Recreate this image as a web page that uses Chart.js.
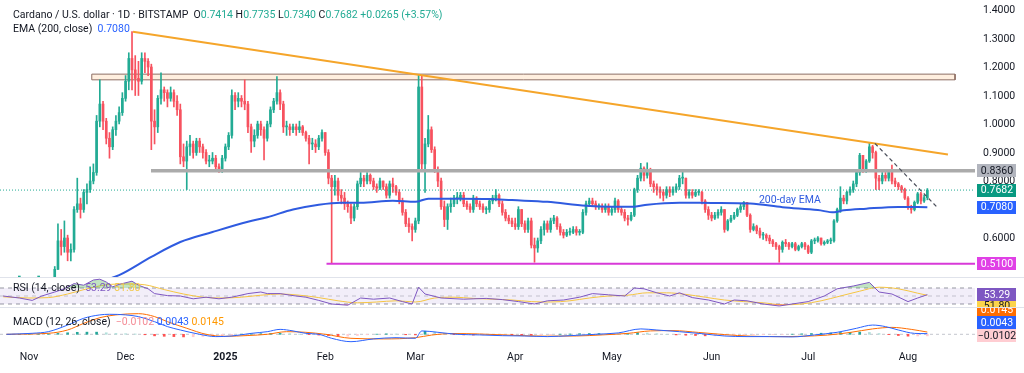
<!DOCTYPE html>
<html>
<head>
<meta charset="UTF-8">
<title>Cardano / U.S. dollar · 1D · BITSTAMP</title>
<script src="https://cdn.jsdelivr.net/npm/chart.js@4"></script>
<style>
  html, body { margin: 0; padding: 0; background: #fff; }
  #wrap { position: relative; width: 1024px; height: 373px; overflow: hidden; font-family: Roboto, "Noto Sans", sans-serif; }
  canvas { position: absolute; left: 0; }
  .sep { position: absolute; left: 0; width: 1024px; height: 1px; background: #e0e3eb; }
  .lg { position: absolute; left: 13px; font-size: 10.5px; line-height: 13px; color: #131722; white-space: nowrap; }
  .g { color: #22ab94; }
</style>
</head>
<body>
<div id="wrap">
  <canvas id="main" width="1024" height="277" style="top:0"></canvas>
  <canvas id="rsi" width="1024" height="40" style="top:278px"></canvas>
  <canvas id="macd" width="1024" height="65" style="top:308px"></canvas>
  <div class="sep" style="top:277px"></div>
  <div class="sep" style="top:307px"></div>
  <div class="lg" style="top:8px">Cardano / U.S. dollar · 1D · BITSTAMP&nbsp; O<span class="g">0.7414</span> H<span class="g">0.7735</span> L<span class="g">0.7340</span> C<span class="g">0.7682</span> <span class="g">+0.0265 (+3.57%)</span></div>
  <div class="lg" style="top:22px">EMA (200, close)&nbsp; <span style="color:#2962ff">0.7080</span></div>
  <div class="lg" style="top:281px">RSI (14, close)&nbsp; <span style="color:#7e57c2">53.29</span> <span style="color:#f2c94c">51.80</span></div>
  <div class="lg" style="top:315px">MACD (12, 26, close)&nbsp; <span style="color:#f48c96">−0.0102</span> <span style="color:#2962ff">0.0043</span> <span style="color:#ff9800">0.0145</span></div>
</div>
<script>
// day 0 = 1 Nov 2024, first candle = 23 Oct 2024
const startDay = -9;
const firstOpen = 0.345;

const closes = [
  0.340,0.345,0.335,0.340,0.350,0.360,0.360,0.350,0.335, // Oct
  0.330,0.325,0.320,0.320,0.325,0.350,0.370,0.390,0.490,0.590, 0.570,0.600,0.550,0.560,0.700,0.720,0.700,0.760,0.770,0.800, 0.830,1.010,1.070,1.010,0.950,0.920,0.980,1.010,1.040,1.090, // Nov
  1.150,1.230,1.190,1.160,1.150,1.230,1.220,1.200,1.010,0.990, 1.090,1.120,1.110,1.090,1.110,1.080,1.050,0.885,0.870,0.920, 0.930,0.900,0.940,0.920,0.900,0.870,0.870,0.880,0.850,0.840, 0.880, // Dec
  0.920,0.960,1.100,1.080,1.090,1.080,1.070,0.990,0.940,0.960, 1.000,0.980,0.950,1.000,1.050,1.080,1.110,1.070,0.990,0.990, 0.980,0.990,0.980,0.990,0.970,0.950,0.930,0.930,0.920,0.950, 0.970, // Jan
  0.900,0.810,0.780,0.800,0.750,0.740,0.720,0.710,0.670,0.710, 0.790,0.810,0.800,0.820,0.800,0.780,0.775,0.800,0.780,0.750, 0.790,0.780,0.760,0.730,0.690,0.650,0.640,0.630, // Feb
  0.660,1.130,0.860,0.930,0.980,0.910,0.840,0.800,0.710,0.665, 0.710,0.720,0.740,0.740,0.750,0.720,0.710,0.700,0.740,0.720, 0.710,0.700,0.700,0.730,0.740,0.750,0.720,0.690,0.670,0.660, 0.650, // Mar
  0.640,0.700,0.650,0.630,0.660,0.575,0.565,0.590,0.630,0.650, 0.630,0.660,0.670,0.640,0.620,0.610,0.620,0.620,0.630,0.620, 0.620,0.690,0.720,0.730,0.720,0.710,0.710,0.700,0.710,0.690, // Apr
  0.700,0.730,0.700,0.690,0.670,0.665,0.680,0.770,0.810,0.845, 0.820,0.840,0.790,0.780,0.770,0.760,0.750,0.770,0.760,0.770, 0.780,0.810,0.810,0.750,0.760,0.750,0.760,0.760,0.730,0.700, 0.680, // May
  0.670,0.680,0.690,0.700,0.630,0.660,0.670,0.680,0.700,0.710, 0.725,0.680,0.630,0.640,0.625,0.610,0.610,0.600,0.590,0.580, 0.570,0.560,0.585,0.580,0.570,0.580,0.560,0.570,0.580,0.570, // Jun
  0.550,0.590,0.590,0.600,0.580,0.585,0.590,0.590,0.660,0.700, 0.740,0.730,0.760,0.770,0.790,0.830,0.890,0.840,0.870,0.920, 0.900,0.810,0.800,0.820,0.810,0.830,0.800,0.790,0.780,0.770, 0.740, // Jul
  0.710,0.700,0.725,0.755,0.730,0.7414,0.7682 // Aug
];
const highs = [
  0.350,0.350,0.345,0.350,0.360,0.370,0.370,0.365,0.350,
  0.340,0.335,0.330,0.330,0.335,0.360,0.390,0.400,0.500,0.650, 0.630,0.660,0.610,0.580,0.710,0.810,0.740,0.770,0.790,0.850, 0.860,1.030,1.155,1.080,1.020,0.970,0.990,1.030,1.060,1.110,
  1.170,1.250,1.324,1.240,1.220,1.250,1.250,1.230,1.210,1.050, 1.100,1.180,1.130,1.120,1.130,1.120,1.100,1.070,0.930,0.940, 0.960,0.940,0.950,0.950,0.930,0.910,0.890,0.900,0.890,0.860, 0.890,
  0.930,0.970,1.120,1.110,1.110,1.100,1.155,1.080,1.000,0.980, 1.010,1.010,0.990,1.010,1.060,1.090,1.166,1.120,1.080,1.010, 1.000,1.000,1.000,1.010,0.995,0.975,0.960,0.950,0.945,0.960, 0.980,
  0.970,0.910,0.820,0.820,0.810,0.770,0.760,0.730,0.720,0.720, 0.800,0.830,0.820,0.830,0.825,0.810,0.790,0.810,0.800,0.790, 0.800,0.810,0.785,0.770,0.740,0.700,0.670,0.650,
  0.670,1.172,1.170,0.950,1.030,0.990,0.920,0.850,0.810,0.730, 0.720,0.740,0.750,0.760,0.760,0.760,0.730,0.720,0.750,0.745, 0.730,0.720,0.710,0.735,0.750,0.770,0.755,0.730,0.700,0.680, 0.670,
  0.670,0.710,0.700,0.660,0.670,0.670,0.600,0.600,0.640,0.660, 0.660,0.670,0.680,0.675,0.650,0.630,0.630,0.635,0.640,0.640, 0.630,0.700,0.730,0.740,0.740,0.730,0.720,0.720,0.720,0.720,
  0.710,0.740,0.735,0.710,0.700,0.680,0.690,0.775,0.820,0.862, 0.850,0.864,0.845,0.800,0.790,0.780,0.770,0.780,0.780,0.780, 0.790,0.820,0.840,0.810,0.770,0.770,0.770,0.770,0.765,0.735, 0.710,
  0.690,0.690,0.700,0.710,0.700,0.665,0.680,0.690,0.705,0.720, 0.728,0.725,0.685,0.650,0.645,0.635,0.620,0.615,0.610,0.595, 0.585,0.575,0.590,0.595,0.585,0.585,0.585,0.575,0.585,0.585,
  0.575,0.595,0.600,0.605,0.600,0.590,0.595,0.600,0.665,0.705, 0.780,0.750,0.765,0.780,0.800,0.840,0.897,0.890,0.875,0.935, 0.925,0.905,0.820,0.830,0.830,0.840,0.856,0.810,0.795,0.785, 0.775,
  0.745,0.715,0.730,0.760,0.760,0.750,0.7735
];
const lows = [
  0.330,0.335,0.325,0.330,0.335,0.345,0.350,0.340,0.330,
  0.320,0.315,0.310,0.310,0.315,0.320,0.350,0.370,0.390,0.490, 0.540,0.550,0.520,0.520,0.550,0.690,0.670,0.690,0.720,0.760, 0.790,0.820,0.990,0.980,0.930,0.880,0.910,0.960,1.000,1.030,
  1.080,1.120,1.120,1.100,1.100,1.140,1.180,1.170,0.910,0.930, 0.970,1.070,1.080,1.060,1.080,1.060,1.030,0.860,0.850,0.770, 0.890,0.880,0.890,0.900,0.880,0.860,0.850,0.860,0.840,0.830, 0.830,
  0.870,0.910,0.950,1.050,1.060,1.060,1.050,0.970,0.900,0.920, 0.950,0.960,0.874,0.940,0.990,1.040,1.070,1.050,0.970,0.960, 0.960,0.970,0.960,0.970,0.960,0.940,0.860,0.910,0.900,0.910, 0.940,
  0.890,0.790,0.510,0.750,0.730,0.720,0.700,0.690,0.650,0.660, 0.700,0.780,0.780,0.790,0.790,0.770,0.760,0.770,0.770,0.740, 0.740,0.760,0.750,0.720,0.680,0.640,0.620,0.590,
  0.620,0.650,0.840,0.760,0.920,0.900,0.830,0.780,0.700,0.640, 0.630,0.690,0.710,0.720,0.730,0.710,0.700,0.690,0.690,0.710, 0.700,0.690,0.685,0.690,0.720,0.730,0.710,0.680,0.660,0.650, 0.640,
  0.630,0.630,0.640,0.620,0.620,0.565,0.515,0.550,0.580,0.610, 0.620,0.620,0.650,0.630,0.610,0.600,0.605,0.610,0.615,0.610, 0.610,0.615,0.680,0.710,0.710,0.700,0.700,0.690,0.690,0.680,
  0.680,0.690,0.690,0.680,0.660,0.645,0.660,0.675,0.760,0.800, 0.800,0.810,0.780,0.760,0.750,0.740,0.730,0.740,0.745,0.750, 0.760,0.770,0.790,0.740,0.740,0.740,0.745,0.750,0.720,0.690, 0.665,
  0.660,0.665,0.670,0.680,0.620,0.625,0.655,0.665,0.675,0.690, 0.700,0.675,0.620,0.625,0.615,0.600,0.595,0.590,0.580,0.570, 0.560,0.515,0.550,0.570,0.560,0.565,0.555,0.555,0.565,0.560,
  0.545,0.545,0.580,0.585,0.575,0.575,0.580,0.580,0.585,0.655, 0.690,0.720,0.720,0.750,0.760,0.780,0.820,0.830,0.830,0.865, 0.880,0.770,0.770,0.790,0.800,0.800,0.790,0.780,0.770,0.760, 0.735,
  0.700,0.687,0.695,0.720,0.720,0.725,0.734
];

const monthTicks = [0, 30, 61, 92, 120, 151, 181, 212, 242, 273];
const monthLabels = ['Nov', 'Dec', '2025', 'Feb', 'Mar', 'Apr', 'May', 'Jun', 'Jul', 'Aug'];
const priceTicks = [1.4, 1.3, 1.2, 1.1, 1.0, 0.9, 0.8, 0.7, 0.6, 0.5];

// EMA 200
const emaDays = [20, 28, 38, 47, 57, 68, 74, 82, 90, 97, 103, 113, 120, 124, 134, 143, 150, 161, 173, 181, 188, 192, 202, 212, 224, 234, 245, 250, 253, 260, 270, 279];
const emaValues = [0.44, 0.47, 0.534, 0.586, 0.621, 0.657, 0.673, 0.700, 0.717, 0.724, 0.724, 0.731, 0.727, 0.738, 0.738, 0.737, 0.733, 0.727, 0.713, 0.710, 0.710, 0.717, 0.724, 0.723, 0.721, 0.708, 0.698, 0.690, 0.697, 0.703, 0.709, 0.708];

// drawings
const zoneDays = [19.5, 287.6];
const zonePrices = [1.155, 1.175];
const resistDays = [32.3, 285.4];
const resistPrices = [1.324, 0.893];
const pullDays = [262.7, 282.3];
const pullPrices = [0.932, 0.705];
const supportStart = 37.9, supportPrice = 0.836;
const floorStart = 92.4, floorPrice = 0.51;
const lastPrice = 0.7682, emaLast = 0.7080;

// RSI (14) and its MA
const rsiDays = [-8, -3, 1, 4, 8, 11, 14, 17, 20, 22, 24, 26, 28, 32, 34, 37, 39, 43, 47, 51, 55, 59, 63, 68, 72, 74, 78, 82, 86, 90, 94, 99,
  103, 107, 112, 116, 119, 121, 123, 128, 135, 142, 147, 152, 157, 161, 166, 171, 175, 180, 185, 188, 191, 195, 199, 202, 206, 211, 216, 219, 223, 228, 233, 237, 242, 247, 251, 256, 261, 264, 268, 273, 276, 279];
const rsiValues = [50, 45, 39, 50, 60, 68, 81, 77, 90, 92, 85, 73, 79, 87, 77, 68, 56, 51, 50, 43, 47, 43, 47, 56, 60, 56, 56, 51, 47, 39, 30, 27,
  45, 42, 45, 36, 30, 72, 55, 45, 42, 44, 41, 36, 30, 38, 40, 47, 56, 53, 50, 70, 68, 58, 50, 58, 46, 40, 30, 40, 38, 30, 25, 30, 36, 50, 68, 75, 84, 60, 55, 36, 45, 53.29];
const rsiMaDays = [-8, 0, 6, 12, 18, 24, 30, 36, 42, 48, 54, 60, 66, 72, 78, 84, 90, 96, 102, 108, 114, 120, 126, 132, 138, 144, 150, 156, 162, 168, 174, 180, 186, 192, 198, 204, 210, 216, 222, 228, 234, 240, 246, 252, 258, 264, 270, 276, 279];
const rsiMaValues = [48, 45, 46, 55, 68, 78, 80, 78, 66, 55, 47, 45, 47, 52, 55, 52, 46, 38, 33, 35, 38, 35, 45, 47, 44, 42, 40, 36, 35, 38, 45, 50, 52, 58, 58, 54, 47, 40, 36, 33, 28, 30, 38, 50, 62, 72, 68, 57, 51.8];

// MACD (12, 26)
const macdDays = [-7, 1, 6, 12, 17, 22, 25, 30, 34, 39, 43, 47, 53, 58, 63, 69, 74, 78, 82, 86, 90, 94, 100,
  107, 114, 120, 122, 127, 133, 140, 147, 154, 161, 168, 176, 183, 190, 195, 202, 209, 216, 223, 230, 237, 244, 251, 257, 262, 266, 270, 275, 279];
const macdValues = [0, 0.0065, 0.017, 0.060, 0.104, 0.126, 0.130, 0.126, 0.115, 0.082, 0.050, 0.028, 0, -0.015, -0.011, 0.006, 0.017, 0.032, 0.022, 0.006, 0, -0.026, -0.048,
  -0.030, -0.022, -0.026, 0.022, 0.013, 0, -0.004, -0.009, -0.011, -0.015, -0.009, 0, 0.009, 0.035, 0.028, 0.017, 0.004, -0.011, -0.015, -0.015, -0.017, -0.004, 0.013, 0.039, 0.060, 0.050, 0.028, 0.006, 0.0043];
const signalDays = [-7, 6, 12, 17, 22, 27, 34, 39, 43, 49, 55, 61, 68, 74, 80, 86, 92, 100,
  110, 120, 125, 132, 140, 150, 160, 170, 178, 186, 193, 200, 208, 216, 224, 232, 240, 248, 255, 262, 268, 274, 279];
const signalValues = [0, 0.0065, 0.028, 0.071, 0.108, 0.126, 0.134, 0.115, 0.082, 0.039, 0, -0.013, -0.008, 0, 0.017, 0.013, 0, -0.026,
  -0.030, -0.022, -0.005, 0.005, 0.002, -0.006, -0.012, -0.011, -0.004, 0.006, 0.022, 0.024, 0.012, -0.002, -0.012, -0.015, -0.013, -0.005, 0.012, 0.035, 0.045, 0.032, 0.0145];
const histStart = -6, histStep = 3;
const histValues = [0, 0, 0,
  0.001, 0.003, 0.006, 0.010, 0.013, 0.014, 0.014, 0.010, 0.006, 0.004,
  0.002, -0.003, -0.010, -0.013, -0.015, -0.017, -0.016, -0.014, -0.012, -0.009,
  -0.005, 0.001, 0.003, 0.004, 0.005, 0.006, 0.004, 0.001, -0.002, -0.005,
  -0.009, -0.012, -0.012, -0.008, -0.003, 0.001, 0.003, 0.002, -0.003, -0.004,
  0.020, 0.014, 0.006, -0.002, -0.004, -0.005, -0.005, -0.003, -0.003, -0.004,
  -0.005, -0.006, -0.004, -0.002, 0.001, 0.002, 0.004, 0.005, 0.005, 0.004,
  0.003, 0.005, 0.010, 0.008, 0.004, 0.000, -0.004, -0.006, -0.008, -0.010,
  -0.010, -0.008, -0.004, -0.003, -0.003, -0.003, -0.002, -0.001, 0.001, 0.003,
  0.005, 0.007, 0.009, 0.012, 0.013, 0.014, 0.012, 0.005, -0.002, -0.008,
  -0.012, -0.011, -0.0102];

// ---------- chart building ----------
const UP = '#22ab94', DOWN = '#f7525f';
const FONT = 'Roboto, "Noto Sans", sans-serif';
const xMin = -9, xMax = 293.8;

const days = closes.map((c, i) => startDay + i);
const opens = closes.map((c, i) => (i ? closes[i - 1] : firstOpen));
const candleColors = closes.map((c, i) => (c >= opens[i] ? UP : DOWN));
const pts = (xs, ys) => xs.map((x, i) => ({ x: x, y: ys[i] }));
const flat = v => [{ x: xMin, y: v }, { x: xMax, y: v }];

function xAxis(show) {
  const ax = { type: 'linear', min: xMin, max: xMax, offset: false, display: show,
    grid: { display: false, drawTicks: false }, border: { display: false } };
  if (show) {
    ax.afterBuildTicks = s => { s.ticks = monthTicks.map(v => ({ value: v })); };
    ax.afterFit = s => { s.height = 28; };
    ax.ticks = { autoSkip: false, maxRotation: 0, padding: 6, color: '#131722',
      font: ctx => ({ family: FONT, size: 10.5, weight: ctx.tick && ctx.tick.value === 61 ? 'bold' : 'normal' }),
      callback: v => monthLabels[monthTicks.indexOf(v)] };
  }
  return ax;
}
// right axis: fixed width, labels drawn by the annotation plugin so the plot keeps its full height
function yAxis(min, max) {
  return { type: 'linear', position: 'right', min: min, max: max,
    afterFit: s => { s.width = 49; },
    grid: { display: false, drawTicks: false }, border: { display: false },
    ticks: { display: false } };
}

// axis labels, price tags on the right axis and free text
function annotations(tags, texts, tickValues) {
  return {
    id: 'annot',
    afterDraw(chart) {
      const ctx = chart.ctx, ys = chart.scales.y, xs = chart.scales.x, h = 13;
      const left = chart.chartArea.right + 2;
      ctx.save();
      ctx.font = '10.5px ' + FONT;
      ctx.textBaseline = 'middle';
      (tickValues || []).forEach(v => {
        ctx.fillStyle = '#131722'; ctx.textAlign = 'left';
        ctx.fillText(v.toFixed(4), chart.chartArea.right + 8, ys.getPixelForValue(v) + 0.5);
      });
      (texts || []).forEach(t => {
        ctx.fillStyle = t.color; ctx.textAlign = 'center';
        ctx.fillText(t.text, xs.getPixelForValue(t.x), ys.getPixelForValue(t.y));
      });
      const place = [];
      tags.forEach((t, i) => {
        let y = ys.getPixelForValue(t.value);
        if (i && t.push === 'up') y = Math.min(y, place[i - 1] - t.gap);
        if (i && t.push === 'down') y = Math.max(y, place[i - 1] + t.gap);
        place.push(y);
      });
      for (let i = tags.length - 1; i >= 0; i--) {
        const t = tags[i], y = place[i];
        ctx.fillStyle = t.bg;
        ctx.fillRect(left, Math.round(y - h / 2), 39, h);
        ctx.fillStyle = t.fg; ctx.textAlign = 'center';
        ctx.fillText(t.text, left + 20, y + 0.5);
      }
      ctx.restore();
    }
  };
}

const common = { responsive: false, animation: false, events: [],
  layout: { padding: 0 },
  plugins: { legend: { display: false }, tooltip: { enabled: false } } };

new Chart(document.getElementById('main'), {
  type: 'bar',
  data: { datasets: [
    { type: 'line', data: pts(pullDays, pullPrices), borderColor: '#4a4e5a', borderWidth: 1.2, borderDash: [4, 3], pointRadius: 0, order: 0 },
    { type: 'line', data: pts(resistDays, resistPrices), borderColor: '#f5a52a', borderWidth: 2, pointRadius: 0, order: 0 },
    { type: 'line', data: [{ x: supportStart, y: supportPrice }, { x: xMax, y: supportPrice }], borderColor: '#ababab', borderWidth: 3.5, pointRadius: 0, order: 0 },
    { type: 'line', data: [{ x: floorStart, y: floorPrice }, { x: xMax, y: floorPrice }], borderColor: '#d83ad8', borderWidth: 2, pointRadius: 0, order: 0 },
    { type: 'line', data: flat(lastPrice), borderColor: UP, borderWidth: 1, borderDash: [1, 2], pointRadius: 0, order: 0 },
    { type: 'line', data: pts(emaDays, emaValues), borderColor: '#2f5be0', borderWidth: 2, pointRadius: 0, cubicInterpolationMode: 'monotone', order: 1 },
    { type: 'bar', data: days.map((d, i) => ({ x: d, y: [opens[i], closes[i]] })), backgroundColor: candleColors, barThickness: 2, minBarLength: 1, grouped: false, order: 2 },
    { type: 'bar', data: days.map((d, i) => ({ x: d, y: [lows[i], highs[i]] })), backgroundColor: candleColors, barThickness: 1, grouped: false, order: 3 },
    { type: 'line', data: [{ x: zoneDays[0], y: zonePrices[0] }, { x: zoneDays[0], y: zonePrices[1] }, { x: zoneDays[1], y: zonePrices[1] }, { x: zoneDays[1], y: zonePrices[0] }, { x: zoneDays[0], y: zonePrices[0] }],
      borderColor: '#8d6e63', borderWidth: 1, pointRadius: 0, order: 4 },
    { type: 'line', data: [{ x: zoneDays[0], y: zonePrices[1] }, { x: zoneDays[1], y: zonePrices[1] }], borderWidth: 0, pointRadius: 0,
      fill: { target: { value: zonePrices[0] } }, backgroundColor: 'rgba(255,214,170,0.38)', order: 5 }
  ] },
  options: Object.assign({}, common, {
    scales: { x: xAxis(false), y: yAxis(0.4632, 1.4351) }
  }),
  plugins: [annotations([
    { value: supportPrice, text: '0.8360', bg: '#b2b5be', fg: '#131722' },
    { value: lastPrice, text: '0.7682', bg: '#089981', fg: '#ffffff' },
    { value: emaLast, text: '0.7080', bg: '#2962ff', fg: '#ffffff' },
    { value: floorPrice, text: '0.5100', bg: '#e040e6', fg: '#ffffff' }
  ], [{ x: 236.3, y: 0.731, text: '200-day EMA', color: '#2f5be0' }], priceTicks)]
});

new Chart(document.getElementById('rsi'), {
  type: 'line',
  data: { datasets: [
    { data: pts(rsiDays, rsiValues), borderColor: '#7e57c2', borderWidth: 1, pointRadius: 0,
      fill: { target: { value: 70 }, above: 'rgba(76,175,80,0.35)', below: 'rgba(0,0,0,0)' }, order: 0 },
    { data: pts(rsiDays, rsiValues), borderColor: 'rgba(0,0,0,0)', borderWidth: 0, pointRadius: 0,
      fill: { target: { value: 30 }, above: 'rgba(0,0,0,0)', below: 'rgba(242,54,69,0.3)' }, order: 1 },
    { data: pts(rsiMaDays, rsiMaValues), borderColor: '#f5c542', borderWidth: 1, pointRadius: 0, cubicInterpolationMode: 'monotone', order: 2 },
    { data: flat(70), borderColor: '#9598a1', borderWidth: 1, borderDash: [4, 4], pointRadius: 0,
      fill: { target: { value: 30 } }, backgroundColor: 'rgba(126,87,194,0.1)', order: 3 },
    { data: flat(50), borderColor: 'rgba(149,152,161,0.5)', borderWidth: 1, borderDash: [4, 4], pointRadius: 0, order: 3 },
    { data: flat(30), borderColor: '#9598a1', borderWidth: 1, borderDash: [4, 4], pointRadius: 0, order: 3 }
  ] },
  options: Object.assign({}, common, {
    layout: { padding: { bottom: 10 } },
    scales: { x: xAxis(false), y: yAxis(20, 95) }
  }),
  plugins: [annotations([
    { value: 53.29, text: '53.29', bg: '#7e57c2', fg: '#ffffff' },
    { value: 51.80, text: '51.80', bg: '#fbd44c', fg: '#131722', push: 'down', gap: 11 }
  ])]
});

const histDays = histValues.map((v, i) => histStart + i * histStep);
const histColors = histValues.map((v, i) => {
  const p = i ? histValues[i - 1] : 0;
  return v >= 0 ? (v >= p ? '#26a69a' : '#b2dfdb') : (v < p ? '#ff5252' : '#ffcdd2');
});

new Chart(document.getElementById('macd'), {
  type: 'bar',
  data: { datasets: [
    { type: 'line', data: pts(macdDays, macdValues), borderColor: '#2962ff', borderWidth: 1, pointRadius: 0, cubicInterpolationMode: 'monotone', order: 0 },
    { type: 'line', data: pts(signalDays, signalValues), borderColor: '#ff6d00', borderWidth: 1, pointRadius: 0, cubicInterpolationMode: 'monotone', order: 1 },
    { type: 'bar', data: pts(histDays, histValues), backgroundColor: histColors, barThickness: 2, grouped: false, order: 2 },
    { type: 'line', data: flat(0), borderColor: '#c3c6ce', borderWidth: 1, borderDash: [3, 3], pointRadius: 0, order: 3 }
  ] },
  options: Object.assign({}, common, {
    scales: { x: xAxis(true), y: yAxis(-0.0695, 0.1708) }
  }),
  plugins: [annotations([
    { value: -0.0102, text: '−0.0102', bg: '#ffcdd2', fg: '#131722' },
    { value: 0.0043, text: '0.0043', bg: '#2962ff', fg: '#ffffff', push: 'up', gap: 13 },
    { value: 0.0145, text: '0.0145', bg: '#ff6d00', fg: '#ffffff', push: 'up', gap: 13 }
  ])]
});
</script>
</body>
</html>
